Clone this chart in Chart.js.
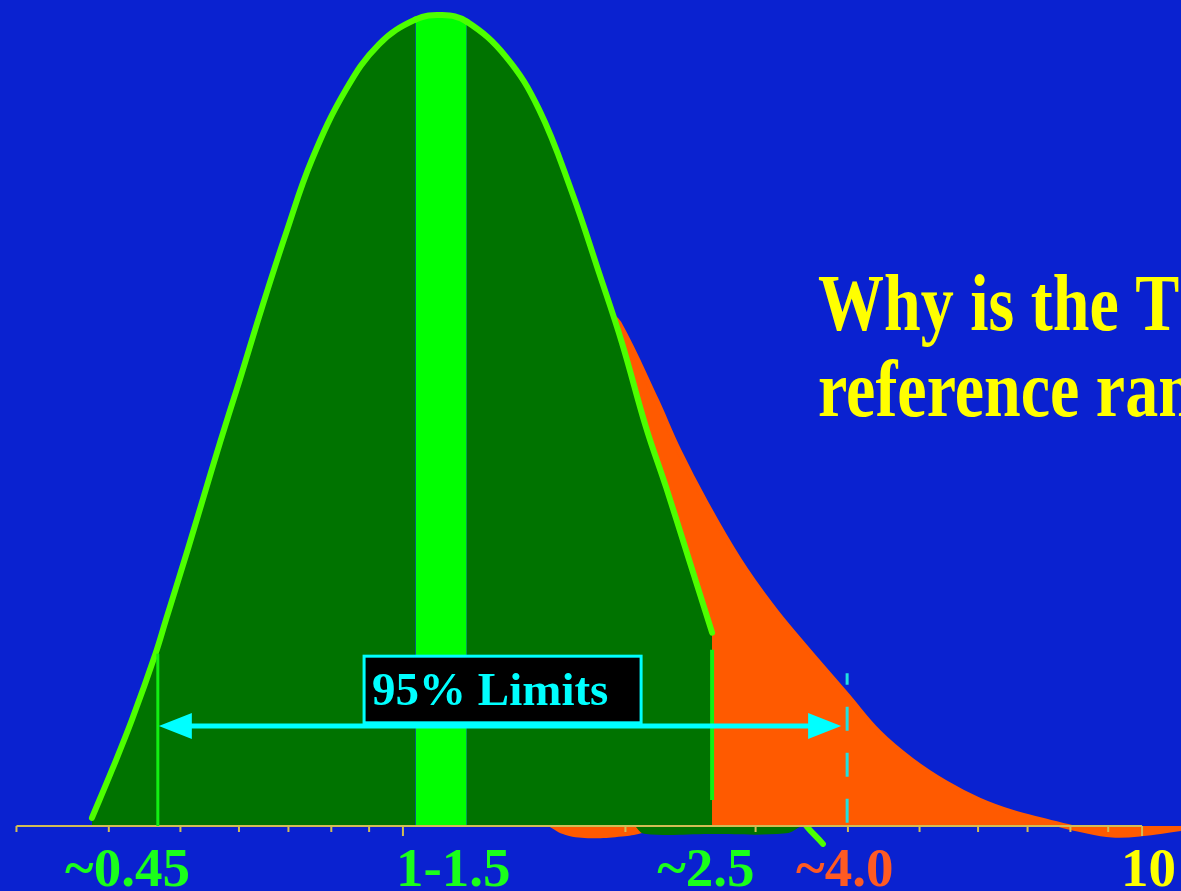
<!DOCTYPE html>
<html>
<head>
<meta charset="utf-8">
<title>TSH reference range</title>
<script src="https://cdn.jsdelivr.net/npm/chart.js@4.4.1/dist/chart.umd.min.js"></script>
<style>
  html, body { margin: 0; padding: 0; background: #0a22d0; overflow: hidden; }
  #wrap { position: relative; width: 1181px; height: 891px; }
</style>
</head>
<body>
<div id="wrap"><canvas id="chart"></canvas></div>
<script>
"use strict";

// Healthy population curve (TSH, log axis)
const greenX = [0.3795, 0.404, 0.43, 0.463, 0.478, 0.513, 0.551, 0.581, 0.6, 0.645, 0.695, 0.753,
  0.837, 0.928, 1.04, 1.13, 1.22, 1.378, 1.528, 1.693, 1.842, 1.978, 2.132, 2.27, 2.438, 2.62];
const greenY = [1.0, 6.9, 13.1, 21.3, 25.4, 34.4, 43.8, 50.6, 54.6, 63.9, 73.0, 82.0,
  90.6, 96.2, 99.25, 99.8, 99.0, 94.7, 88.2, 78.0, 68.1, 59.5, 49.1, 41.7, 32.8, 23.8];

// Rest of the green curve, hidden behind the orange one
const greenTailX = [2.62, 3.0, 3.47, 3.7];
const greenTailY = [23.8, 10.5, 0.7, -2.2];

// Whole population, skewed to the right
const orangeX = [1.9, 1.96, 2.2, 2.36, 2.57, 2.85, 3.16, 3.44, 3.99, 4.41, 4.88, 5.43,
  6.02, 6.67, 7.42, 8.22, 9.11, 10.13, 11.29];
const orangeY = [63.0, 61.9, 52.5, 46.3, 39.8, 32.8, 27.0, 22.9, 16.1, 11.5, 8.1, 5.3,
  3.2, 1.7, 0.6, -0.4, -1.1, -0.9, -0.3];

// Edges of both shapes that drop under the axis
const orangeLipX = [1.57, 1.66, 1.8, 1.98, 2.1, 2.25];
const orangeLipY = [0, -1.1, -1.5, -1.3, -0.9, 0];
const greenLipX = [2.06, 2.12, 2.6, 3.3, 3.46];
const greenLipY = [0, -0.95, -1.0, -0.9, 0];

// Mode band and limits
const modeBand = [1.04, 1.22];
const limits95 = [0.466, 2.62];
const upperLimitAll = 3.99;

// Axis
const axisTicks = [0.3, 0.4, 0.5, 0.6, 0.7, 0.8, 0.9, 1, 2, 3, 4, 5, 6, 7, 8, 9, 10];
const axisLabels = ["~0.45", "1-1.5", "~2.5", "~4.0", "10"];
const axisLabelAt = [0.424, 1.17, 2.57, 3.96, 10.2];

const titleLines = ["Why is the TSH", "reference range"];

const COLORS = {
  darkGreen: "#007300",
  band: "#00ff00",
  outline: "#4dff00",
  limit: "#12f012",
  orange: "#ff5a00",
  cyan: "#00ffff",
  dashed: "#20e0e0",
  axis: "#d2bd55",
  yellow: "#ffff00",
  labels: ["#1aff1a", "#1aff1a", "#1aff1a", "#ff5a22", "#ffff00"],
};

const SERIF = '"Liberation Serif", "Times New Roman", serif';

const toPoints = (xs, ys) => xs.map((x, i) => ({ x, y: ys[i] }));
const inBand = (v) => v >= modeBand[0] - 1e-9 && v <= modeBand[1] + 1e-9;

function stretchedText(ctx, text, x, y, sy) {
  ctx.save();
  ctx.translate(x, y);
  ctx.scale(1, sy);
  ctx.fillText(text, 0, 0);
  ctx.restore();
}

// Axis, limits, arrow, box and texts on top of the curves
const overlay = {
  id: "overlay",
  afterDatasetsDraw(chart) {
    const { ctx } = chart;
    const px = (v) => chart.scales.x.getPixelForValue(v);
    const py = (v) => chart.scales.y.getPixelForValue(v);
    const y0 = py(0);

    ctx.save();

    // axis line and ticks
    ctx.strokeStyle = COLORS.axis;
    ctx.lineWidth = 2;
    ctx.beginPath();
    ctx.moveTo(px(axisTicks[0]), y0);
    ctx.lineTo(px(axisTicks[axisTicks.length - 1]), y0);
    axisTicks.forEach((t) => {
      const len = t === 1 || t === 10 ? 10 : 6;
      ctx.moveTo(px(t), y0);
      ctx.lineTo(px(t), y0 + len);
    });
    ctx.stroke();

    // 95% limits
    ctx.strokeStyle = COLORS.limit;
    ctx.lineWidth = 3;
    ctx.beginPath();
    ctx.moveTo(px(limits95[0]), py(21.2));
    ctx.lineTo(px(limits95[0]), y0);
    ctx.stroke();
    ctx.lineWidth = 4;
    ctx.beginPath();
    ctx.moveTo(px(limits95[1]), py(21.7));
    ctx.lineTo(px(limits95[1]), py(3.2));
    ctx.stroke();

    // upper limit of the whole population
    ctx.strokeStyle = COLORS.dashed;
    ctx.lineWidth = 3;
    ctx.setLineDash([24, 22]);
    ctx.beginPath();
    ctx.moveTo(px(upperLimitAll), py(0.4));
    ctx.lineTo(px(upperLimitAll), py(18.8));
    ctx.stroke();
    ctx.setLineDash([]);

    // double arrow
    const ay = py(12.3);
    const xl = px(limits95[0]) + 1;
    const xr = px(upperLimitAll) - 6;
    const head = 33, half = 13;
    ctx.strokeStyle = COLORS.cyan;
    ctx.fillStyle = COLORS.cyan;
    ctx.lineWidth = 5;
    ctx.beginPath();
    ctx.moveTo(xl + head - 2, ay);
    ctx.lineTo(xr - head + 2, ay);
    ctx.stroke();
    ctx.beginPath();
    ctx.moveTo(xl, ay);
    ctx.lineTo(xl + head, ay - half);
    ctx.lineTo(xl + head, ay + half);
    ctx.closePath();
    ctx.moveTo(xr, ay);
    ctx.lineTo(xr - head, ay - half);
    ctx.lineTo(xr - head, ay + half);
    ctx.closePath();
    ctx.fill();

    // "95% Limits" box
    const bx0 = px(0.886), bx1 = px(2.1);
    const by0 = py(20.9), by1 = py(12.7);
    ctx.fillStyle = "#000000";
    ctx.fillRect(bx0, by0, bx1 - bx0, by1 - by0);
    ctx.lineWidth = 3;
    ctx.strokeRect(bx0, by0, bx1 - bx0, by1 - by0);
    ctx.fillStyle = COLORS.cyan;
    ctx.font = "bold 47px " + SERIF;
    ctx.textAlign = "left";
    ctx.textBaseline = "alphabetic";
    ctx.fillText("95% Limits", bx0 + 8, by1 - 18);

    // axis labels
    ctx.font = "bold 55px " + SERIF;
    ctx.textAlign = "center";
    axisLabels.forEach((txt, i) => {
      ctx.fillStyle = COLORS.labels[i];
      ctx.fillText(txt, px(axisLabelAt[i]), 886);
    });

    // question on the right
    ctx.fillStyle = COLORS.yellow;
    ctx.font = "bold 66px " + SERIF;
    ctx.textAlign = "left";
    stretchedText(ctx, titleLines[0], 818, 330, 1.22);
    stretchedText(ctx, titleLines[1], 818, 416, 1.22);

    ctx.restore();
  },
};

const TshChart = {
  chart: null,

  init() {
    const canvas = document.getElementById("chart");
    if (this.chart) {
      this.chart.destroy();
    }

    this.chart = new Chart(canvas, {
      type: "line",
      data: {
        datasets: [
          {
            // index 0 is drawn last, so it sits on top
            label: "Healthy",
            data: toPoints(greenX, greenY),
            borderColor: COLORS.outline,
            borderWidth: 6,
            backgroundColor: COLORS.darkGreen,
            fill: "origin",
            segment: {
              backgroundColor: (c) =>
                inBand(c.p0.parsed.x) && inBand(c.p1.parsed.x) ? COLORS.band : undefined,
            },
          },
          {
            label: "Healthy edge",
            data: toPoints(greenLipX, greenLipY),
            borderWidth: 0,
            borderColor: "rgba(0,0,0,0)",
            backgroundColor: COLORS.darkGreen,
            fill: "origin",
          },
          {
            label: "All edge",
            data: toPoints(orangeLipX, orangeLipY),
            borderWidth: 0,
            borderColor: "rgba(0,0,0,0)",
            backgroundColor: COLORS.orange,
            fill: "origin",
          },
          {
            label: "All",
            data: toPoints(orangeX, orangeY),
            borderColor: COLORS.orange,
            borderWidth: 5,
            backgroundColor: COLORS.orange,
            fill: "origin",
          },
          {
            label: "Healthy tail",
            data: toPoints(greenTailX, greenTailY),
            borderColor: COLORS.outline,
            borderWidth: 6,
            fill: false,
          },
        ],
      },
      options: {
        responsive: true,
        maintainAspectRatio: false,
        animation: false,
        events: [],
        layout: { padding: 0 },
        elements: {
          point: { radius: 0, hoverRadius: 0 },
          line: { tension: 0.4, borderJoinStyle: "round", borderCapStyle: "round" },
        },
        plugins: {
          legend: { display: false },
          tooltip: { enabled: false },
        },
        scales: {
          x: { type: "logarithmic", min: 0.285, max: 11.29, bounds: "data", display: false },
          y: { type: "linear", min: -8, max: 101.66, bounds: "data", display: false },
        },
      },
      plugins: [overlay],
    });
  },
};

TshChart.init();
</script>
</body>
</html>
